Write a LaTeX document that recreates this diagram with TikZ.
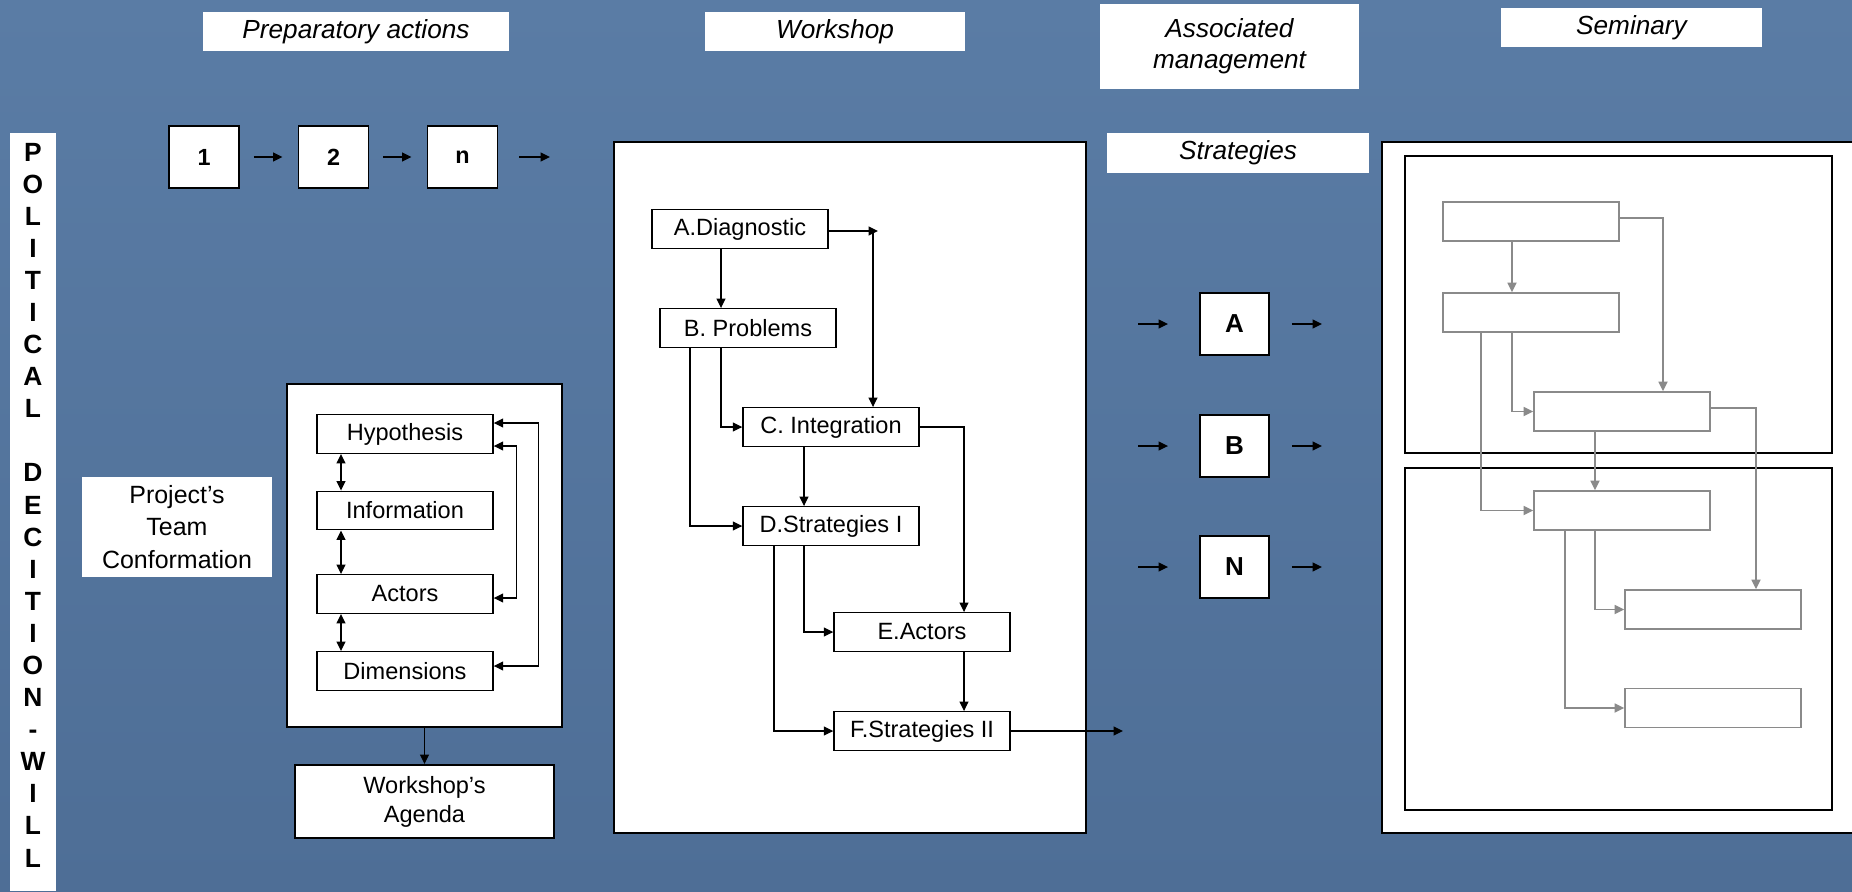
\documentclass[tikz,border=0pt]{standalone}
\usepackage{fontspec}
\setmainfont{Liberation Sans}
\usetikzlibrary{arrows.meta,positioning,calc}
\definecolor{slide}{RGB}{90,124,165}
\definecolor{slidedark}{RGB}{78,110,150}
\definecolor{ghost}{RGB}{138,138,138}

\begin{document}
\begin{tikzpicture}[
    x=0.2mm, y=-0.2mm,
    >={Triangle[length=0.19cm,width=0.18cm]},
    arr/.style={->, line width=0.75pt},
    dblarr/.style={<->, line width=0.75pt},
    ghostarr/.style={->, draw=ghost, line width=1pt},
    headbox/.style={fill=white, inner sep=0pt, align=center, font=\itshape\fontsize{14.9}{17.6}\selectfont},
    stepbox/.style={draw, fill=white, line width=1.1pt, minimum width=1.4cm, minimum height=1.24cm, inner sep=0pt, font=\bfseries\fontsize{13.3}{16}\selectfont},
    stratbox/.style={stepbox, minimum width=1.38cm, font=\bfseries\fontsize{14.8}{17}\selectfont},
    panel/.style={draw, fill=white, line width=1.1pt, inner sep=0pt},
    flowbox/.style={draw, fill=white, line width=0.8pt, minimum width=3.52cm, minimum height=0.77cm, inner sep=0pt, font=\fontsize{13.4}{16}\selectfont},
    ghostbox/.style={draw=ghost, fill=white, line width=1pt, minimum width=3.52cm, minimum height=0.78cm, inner sep=0pt},
    plainbox/.style={fill=white, inner sep=0pt, align=center, font=\fontsize{14.2}{18.4}\selectfont}
]

% slide background
\fill[top color=slide, bottom color=slidedark] (0,0) rectangle (1852,891);
\useasboundingbox (0,0) rectangle (1852,891);

% Column headings
\node[headbox, minimum width=6.12cm, minimum height=0.78cm] (hprep) at (356,31.5) {Preparatory actions};
\node[headbox, minimum width=5.2cm, minimum height=0.78cm] (hwork) at (835,31.5) {Workshop};
\node[headbox, minimum width=5.18cm, minimum height=1.7cm] (hassoc) at (1229.5,46.5) {Associated\\management};
\node[headbox, minimum width=5.22cm, minimum height=0.78cm] (hsem) at (1631.5,27.5) {Seminary};
\node[headbox, minimum width=5.24cm, minimum height=0.8cm] (hstrat) at (1238,153) {Strategies};

% Political decition - will (left strip)
\node[fill=white, minimum width=0.92cm, minimum height=15.16cm, inner sep=0pt] (strip) at (33,512) {};
\node[font=\bfseries\fontsize{15}{18.26}\selectfont, align=center, inner sep=0pt] (pdw) at (33,505)
  {P\\O\\L\\I\\T\\I\\C\\A\\L\\[18.26pt]D\\E\\C\\I\\T\\I\\O\\N\\-\\W\\I\\L\\L};

% Preparatory steps
\node[stepbox] (s1) at (204,157) {1};
\node[stepbox] (s2) at (333.5,157) {2};
\node[stepbox] (sn) at (462.5,157) {n};
\coordinate (snout) at (550,157);
\draw[arr, shorten <=0.28cm, shorten >=0.3cm] (s1) -- (s2);
\draw[arr, shorten <=0.28cm, shorten >=0.3cm] (s2) -- (sn);
\draw[arr, shorten <=0.42cm] (sn) -- (snout);

\node[plainbox, minimum width=3.8cm, minimum height=2cm] (team) at (177,527) {Project's\\Team\\Conformation};

% Preparatory panel
\node[panel, minimum width=5.5cm, minimum height=6.86cm] (prep) at (424.5,555.5) {};
\node[flowbox] (hyp) at (405,434) {Hypothesis};
\node[flowbox] (info) at (405,510.5) {Information};
\node[flowbox] (act) at (405,594) {Actors};
\node[flowbox] (dim) at (405,671) {Dimensions};
\draw[dblarr] ([xshift=-1.28cm]hyp.south) -- ([xshift=-1.28cm]info.north);
\draw[dblarr] ([xshift=-1.28cm]info.south) -- ([xshift=-1.28cm]act.north);
\draw[dblarr] ([xshift=-1.28cm]act.south) -- ([xshift=-1.28cm]dim.north);
\draw[dblarr] ([yshift=0.22cm]hyp.east) -- ++(0.9cm,0) |- ([yshift=0.1cm]dim.east);
\draw[dblarr] ([yshift=-0.24cm]hyp.east) -- ++(0.46cm,0) |- ([yshift=-0.08cm]act.east);

\node[panel, minimum width=5.18cm, minimum height=1.46cm, align=center, font=\fontsize{13.4}{16.5}\selectfont] (agenda) at (424.5,801.5) {Workshop's\\Agenda};
\draw[arr] (prep.south) -- (agenda.north);

% Workshop panel
\node[panel, minimum width=9.44cm, minimum height=13.82cm] (work) at (850,487.5) {};
\node[flowbox] (diag) at (740,229) {A.Diagnostic};
\node[flowbox] (prob) at (748,328) {B. Problems};
\node[flowbox] (integ) at (831,427) {C. Integration};
\node[flowbox] (strat1) at (831,526) {D.Strategies I};
\node[flowbox] (wact) at (922,632) {E.Actors};
\node[flowbox] (strat2) at (922,731) {F.Strategies II};
\coordinate (diagturn) at (873,231);
\coordinate (wout) at (1123,731);

\draw[arr] ([xshift=-0.38cm]diag.south) -- ([xshift=-0.38cm]diag.south |- prob.north);
\draw[arr] (diag.east |- diagturn) -- ([xshift=0.1cm]diagturn);
\draw[arr] (diagturn) -- (diagturn |- integ.north);
\draw[arr] ([xshift=-0.54cm]prob.south) |- (integ.west);
\draw[arr] ([xshift=-1.16cm]prob.south) |- (strat1.west);
\draw[arr] ([xshift=-0.54cm]integ.south) -- ([xshift=-0.54cm]strat1.north);
\draw[arr] (integ.east) -| ([xshift=0.84cm]wact.north);
\draw[arr] ([xshift=-0.54cm]strat1.south) |- (wact.west);
\draw[arr] ([xshift=-1.14cm]strat1.south) |- (strat2.west);
\draw[arr] ([xshift=0.84cm]wact.south) -- ([xshift=0.84cm]strat2.north);
\draw[arr] (strat2.east) -- (wout);

% Associated management strategies
\node[stratbox] (sa) at (1234.5,324) {A};
\node[stratbox] (sb) at (1234.5,446) {B};
\node[stratbox] (sc) at (1234.5,567) {N};
\coordinate (sain) at (1138,324);
\coordinate (sbin) at (1138,446);
\coordinate (scin) at (1138,567);
\coordinate (saout) at (1322,324);
\coordinate (sbout) at (1322,446);
\coordinate (scout) at (1322,567);
\draw[arr, shorten >=0.62cm] (sain) -- (sa);
\draw[arr, shorten >=0.62cm] (sbin) -- (sb);
\draw[arr, shorten >=0.62cm] (scin) -- (sc);
\draw[arr, shorten <=0.44cm] (sa) -- (saout);
\draw[arr, shorten <=0.44cm] (sb) -- (sbout);
\draw[arr, shorten <=0.44cm] (sc) -- (scout);

% Seminary panel
\node[panel, minimum width=9.8cm, minimum height=13.82cm] (sem) at (1627,487.5) {};
\node[panel, line width=1.3pt, minimum width=8.54cm, minimum height=5.94cm] (semtop) at (1618.5,304.5) {};
\node[panel, line width=1.3pt, minimum width=8.54cm, minimum height=6.84cm] (sembot) at (1618.5,639) {};
\node[ghostbox] (g1) at (1531,221.5) {};
\node[ghostbox] (g2) at (1531,312.5) {};
\node[ghostbox] (g3) at (1622,411.5) {};
\node[ghostbox] (g4) at (1622,510.5) {};
\node[ghostbox] (g5) at (1713,609.5) {};
\node[ghostbox] (g6) at (1713,708) {};

\draw[ghostarr] ([xshift=-0.38cm]g1.south) -- ([xshift=-0.38cm]g2.north);
\draw[ghostarr] ([yshift=0.07cm]g1.east) -| ([xshift=0.82cm]g3.north);
\draw[ghostarr] ([xshift=-0.38cm]g2.south) |- (g3.west);
\draw[ghostarr] ([xshift=-1.0cm]g2.south) |- (g4.west);
\draw[ghostarr] ([xshift=-0.54cm]g3.south) -- ([xshift=-0.54cm]g4.north);
\draw[ghostarr] ([yshift=0.07cm]g3.east) -| ([xshift=0.86cm]g5.north);
\draw[ghostarr] ([xshift=-0.54cm]g4.south) |- (g5.west);
\draw[ghostarr] ([xshift=-1.14cm]g4.south) |- (g6.west);

\end{tikzpicture}
\end{document}
